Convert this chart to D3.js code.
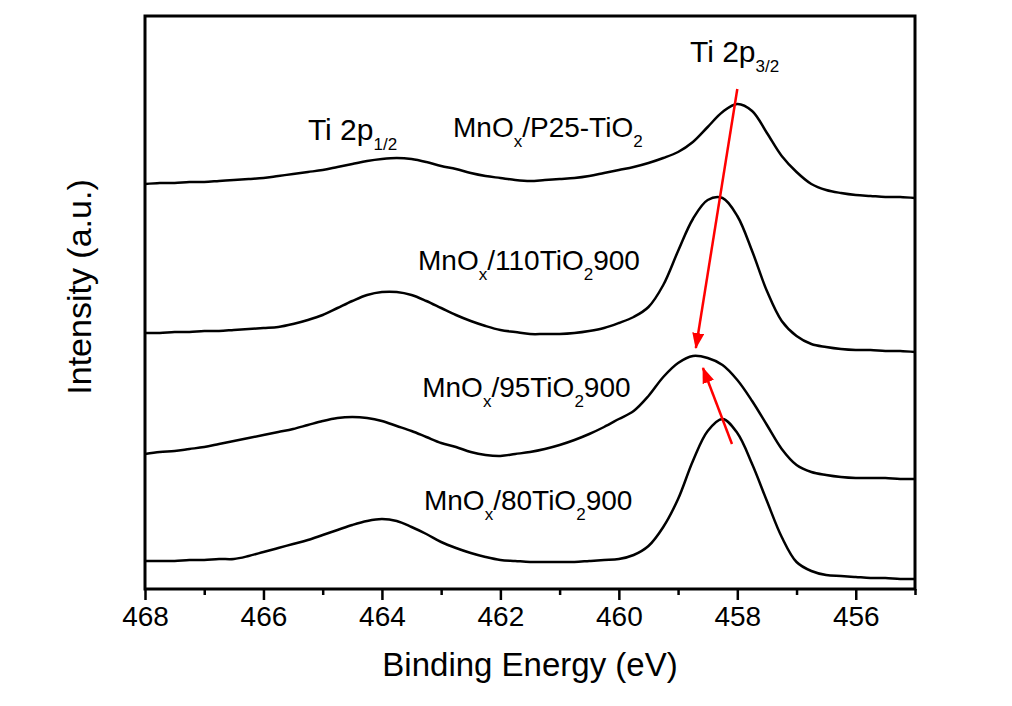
<!DOCTYPE html>
<html><head><meta charset="utf-8">
<script src="https://cdn.jsdelivr.net/npm/d3@7"></script>
<style>
body{margin:0;background:#fff;}
svg{display:block;font-family:Arial,"Liberation Sans",sans-serif;}
</style>
</head><body>
<svg id="chart" width="1012" height="706"></svg>
<script>
// Binding energy grid (eV)
const energy = [468,467.75,467.5,467.25,467,466.75,466.5,466.25,466,465.75,465.5,465.25,465,464.75,464.5,464.25,464,463.75,463.5,463.25,463,462.75,462.5,462.25,462,461.75,461.5,461.25,461,460.75,460.5,460.25,460,459.75,459.5,459.25,459,458.75,458.5,458.25,458,457.75,457.5,457.25,457,456.75,456.5,456.25,456,455.75,455.5,455.25,455];
// Intensities (a.u., stacked with offsets as in the figure)
const intP25 = [405,406,406,407,407,408,409,410,411,413,415,417,419,422,425,428,430,431,430,427,423,420,416,413,411,409,408,409,410,411,413,416,419,422,426,431,437,447,462,477,485,478,456,433,417,405,399,396,394,393,392,392,391];
const int110 = [256,256,257,257,258,258,259,260,261,262,265,269,274,281,288,294,297,297,294,288,281,274,268,263,259,257,255,255,255,256,258,261,266,272,282,304,338,370,389,391,373,338,298,268,253,245,242,240,239,239,238,238,237];
const int95 = [135,137,138,140,142,145,148,151,154,157,160,164,168,171,172,171,168,163,158,152,146,142,137,134,133,135,137,140,144,149,155,162,170,178,193,212,226,233,231,224,209,188,164,140,124,117,114,112,111,111,111,110,110];
const int80 = [28,28,28,29,29,30,30,33,37,41,45,49,54,59,64,68,70,68,62,55,47,41,36,32,29,28,27,27,27,27,28,29,30,34,43,62,90,128,158,170,156,125,88,52,27,18,14,13,12,11,11,10,10];
const seriesList = [intP25, int110, int95, int80];

const xMajorTicks = [468,466,464,462,460,458,456];
const xMinorTicks = [467,465,463,461,459,457,455];
const xTitle = "Binding Energy (eV)";
const yTitle = "Intensity (a.u.)";

// Annotations: [energy, intensity] pairs
const arrowShift = [[458.0, 500],[458.70, 241]];
const arrowBack = [[458.09, 145],[458.58, 221]];

// Labels: text parts [text, isSubscript]
const peakLabels = [
  {parts:[["Ti 2p",0],["3/2",1]], at:[458.80, 527], big:true},
  {parts:[["Ti 2p",0],["1/2",1]], at:[465.25, 449], big:true},
  {parts:[["MnO",0],["x",1],["/P25-TiO",0],["2",1]], at:[462.80, 452]},
  {parts:[["MnO",0],["x",1],["/110TiO",0],["2",1],["900",0]], at:[463.39, 319]},
  {parts:[["MnO",0],["x",1],["/95TiO",0],["2",1],["900",0]], at:[463.32, 192]},
  {parts:[["MnO",0],["x",1],["/80TiO",0],["2",1],["900",0]], at:[463.29, 79]}
];

const svg = d3.select("#chart");
const L = 145, R = 915, T = 16, B = 589;
const x = d3.scaleLinear().domain([468, 455]).range([L, R]);
const y = d3.scaleLinear().domain([0, 573]).range([B, T]);

// curves
const line = d3.line().x(d => x(d[0])).y(d => y(d[1])).curve(d3.curveCatmullRom.alpha(0.5));
seriesList.forEach(s => {
  svg.append("path")
    .datum(energy.map((e, i) => [e, s[i]]))
    .attr("d", line)
    .attr("fill", "none")
    .attr("stroke", "#000")
    .attr("stroke-width", 2.5)
    .attr("stroke-linejoin", "round");
});

// axes
const gMaj = svg.append("g").attr("transform", `translate(0,${B})`)
  .call(d3.axisBottom(x).tickValues(xMajorTicks).tickSize(11).tickPadding(6).tickFormat(d3.format("d")));
const gMin = svg.append("g").attr("transform", `translate(0,${B})`)
  .call(d3.axisBottom(x).tickValues(xMinorTicks).tickSize(6).tickFormat(""));
[gMaj, gMin].forEach(g => {
  g.select(".domain").remove();
  g.selectAll(".tick line").attr("stroke", "#000").attr("stroke-width", 2.5);
});
gMaj.selectAll(".tick text").attr("fill", "#000").style("font-size", "28px").style("font-family", "Arial, 'Liberation Sans', sans-serif");

// frame
svg.append("rect").attr("x", L).attr("y", T).attr("width", R - L).attr("height", B - T)
  .attr("fill", "none").attr("stroke", "#000").attr("stroke-width", 3);

// titles
svg.append("text").attr("x", (L + R) / 2).attr("y", 676).attr("text-anchor", "middle")
  .style("font-size", "33px").text(xTitle);
svg.append("text").attr("transform", "translate(91,287) rotate(-90)").attr("text-anchor", "middle")
  .style("font-size", "34px").text(yTitle);

// arrows
const defs = svg.append("defs");
defs.append("marker").attr("id", "ah").attr("markerUnits", "userSpaceOnUse")
  .attr("viewBox", "0 0 16 12").attr("refX", 15).attr("refY", 6)
  .attr("markerWidth", 16).attr("markerHeight", 12).attr("orient", "auto")
  .append("path").attr("d", "M0,0 L16,6 L0,12 Z").attr("fill", "#ff0000");
const aline = d3.line().x(d => x(d[0])).y(d => y(d[1]));
[arrowShift, arrowBack].forEach(a => {
  svg.append("path").attr("d", aline(a)).attr("stroke", "#ff0000").attr("stroke-width", 2.5)
    .attr("fill", "none").attr("marker-end", "url(#ah)");
});

// labels
peakLabels.forEach(lb => {
  const t = svg.append("text").attr("x", x(lb.at[0])).attr("y", y(lb.at[1]))
    .style("font-size", lb.big ? "30px" : "28px");
  let shifted = false;
  lb.parts.forEach(p => {
    const ts = t.append("tspan").text(p[0]);
    if (p[1]) { ts.attr("dy", 10).style("font-size", "17px"); shifted = true; }
    else if (shifted) { ts.attr("dy", -10); shifted = false; }
  });
});
</script>
</body></html>
